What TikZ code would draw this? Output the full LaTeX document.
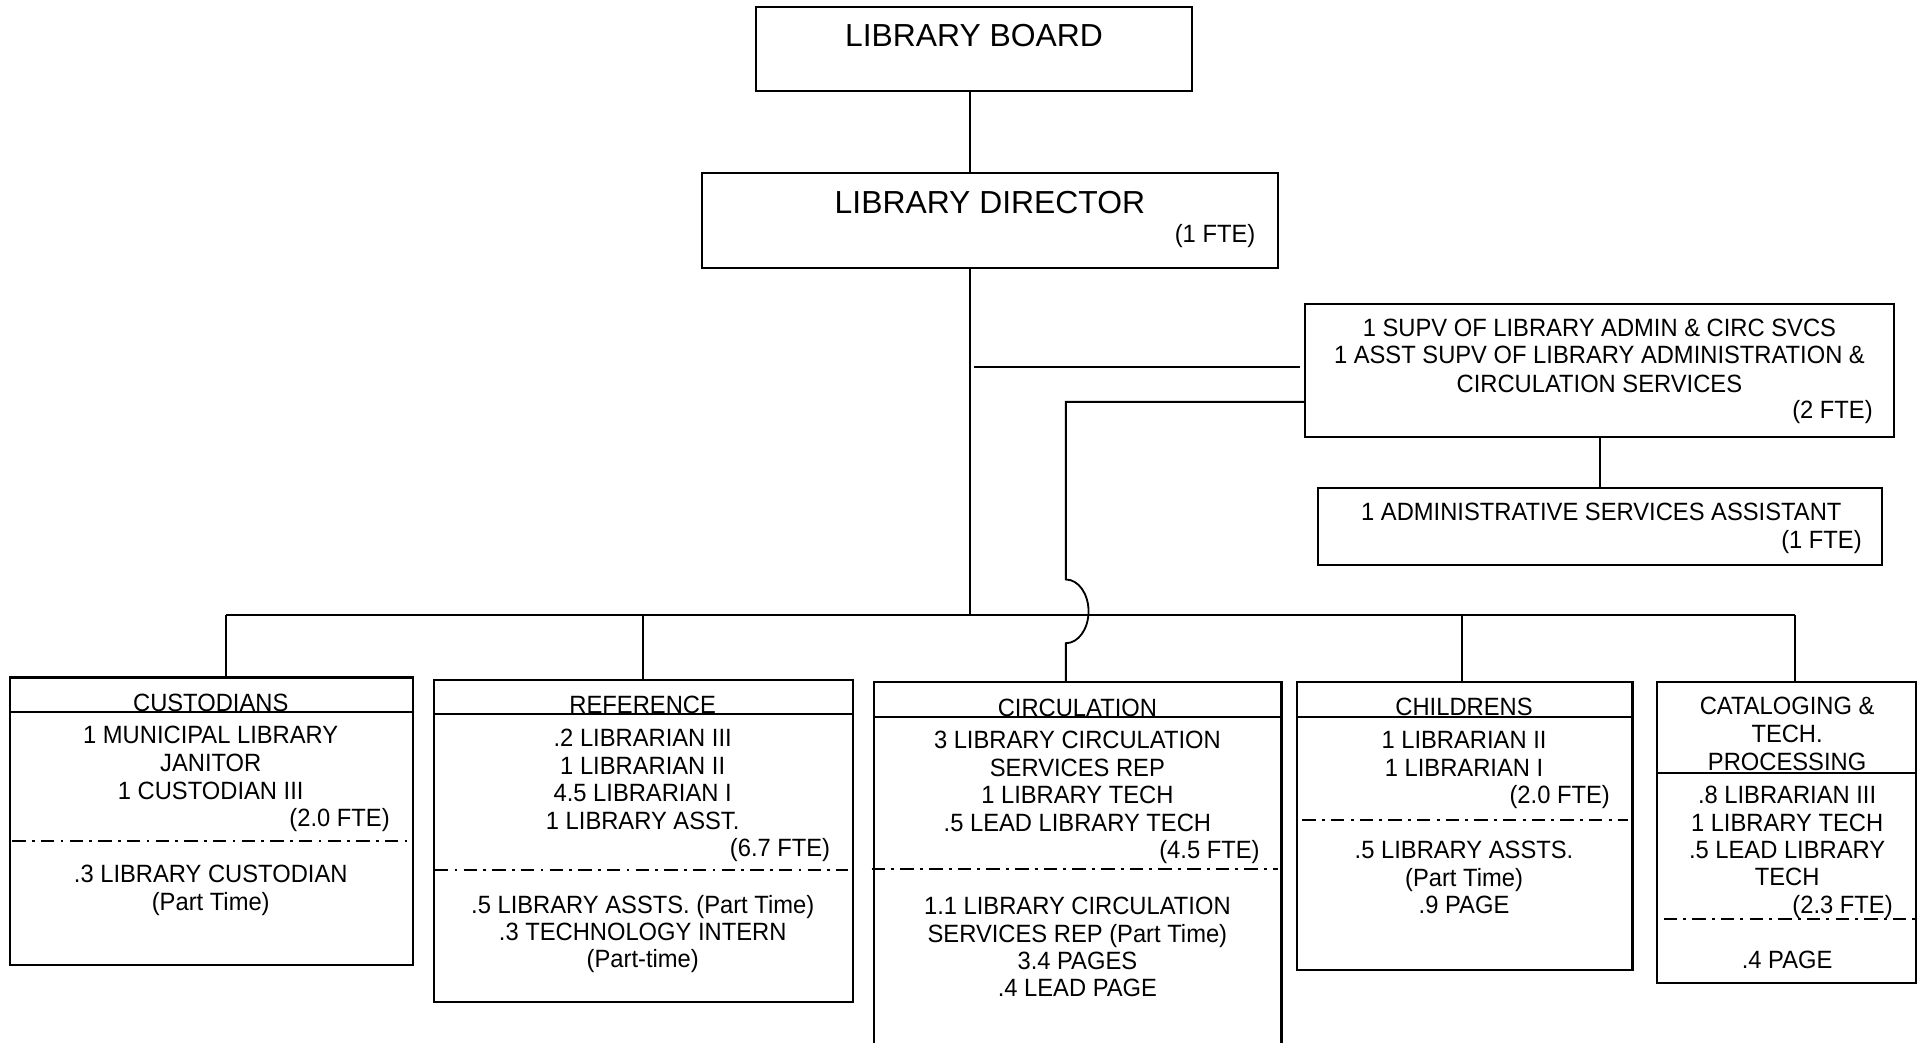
\documentclass[tikz,border=0pt]{standalone}
\usepackage{fontspec}
\setmainfont{Liberation Sans}
\newfontfamily\bodyfont[FakeStretch=0.95]{Liberation Sans}
\usetikzlibrary{fit}
\begin{document}
\begin{tikzpicture}[x=0.5pt,y=-0.5pt,
  box/.style={draw, line width=0.85pt, inner sep=0pt, outer sep=0pt, fit={#1}},
  txt/.style={inner sep=0pt, anchor=base, font=\bodyfont\fontsize{10.2}{12}\selectfont},
  ttl/.style={inner sep=0pt, anchor=base, font=\fontsize{13}{15}\selectfont},
  fte/.style={inner sep=0pt, anchor=base east, font=\bodyfont\fontsize{10.2}{12}\selectfont},
  conn/.style={line width=0.75pt},
  hdr/.style={line width=0.85pt},
  dd/.style={line width=0.8pt, dash pattern=on 5.5pt off 2.5pt on 1.2pt off 2.5pt}]
\useasboundingbox (0,0) rectangle (1568,851);

% boxes
\node[box={(617,6) (973,74)}] (board) {};
\node[box={(573,141) (1043,219)}] (director) {};
\node[box={(1065,248) (1546,357)}] (supv) {};
\node[box={(1076,398) (1536,461)}] (admin) {};
\node[box={(8,553) (337,788)}] (cust) {};
\node[box={(354,555) (696,818)}] (ref) {};
\node[box={(713.5,556.5) (1046,880)}] (circ) {};
\node[box={(1059,556.5) (1332.5,792)}] (child) {};
\node[box={(1352.5,556.5) (1564,802)}] (cat) {};

% bus coordinates
\coordinate (busM) at (792,502);
\coordinate (busA) at (184.5,502);
\coordinate (busB) at (524.5,502);
\coordinate (busC) at (870,502);
\coordinate (busD) at (1193,502);
\coordinate (busE) at (1465,502);
\coordinate (jog) at (870,328);
\coordinate (tapL) at (795,299.5);
\coordinate (tapR) at (1061,299.5);

% connectors
\draw[conn] (board.south -| busM) -- (director.north -| busM);
\draw[conn] (director.south -| busM) -- (busM);
\draw[conn] (busA) -- (busE);
\draw[conn] (busA) -- (cust.north -| busA);
\draw[conn] (busB) -- (ref.north -| busB);
\draw[conn] (busD) -- (child.north -| busD);
\draw[conn] (busE) -- (cat.north -| busE);
\draw[conn] (tapL) -- (tapR);
\draw[conn] (supv.west |- jog) -- (jog) -- (870,473)
  arc[start angle=90, end angle=-90, x radius=9.25pt, y radius=13pt]
  -- (circ.north -| jog);
\draw[conn] (supv.south -| admin.north) -- (admin.north);

% top texts
\node[ttl] (boardT) at (795,38) {LIBRARY BOARD};
\node[ttl] (dirT) at (808,174) {LIBRARY DIRECTOR};
\node[fte] (dirF) at (1025,198) {(1 FTE)};
\node[txt] (sup1) at (1305.5,275) {1 SUPV OF LIBRARY ADMIN \& CIRC SVCS};
\node[txt] (sup2) at (1305.5,297) {1 ASST SUPV OF LIBRARY ADMINISTRATION \&};
\node[txt] (sup3) at (1305.5,320) {CIRCULATION SERVICES};
\node[fte] (supF) at (1529,342) {(2 FTE)};
\node[txt] (adm1) at (1307,425) {1 ADMINISTRATIVE SERVICES ASSISTANT};
\node[fte] (admF) at (1520,448) {(1 FTE)};

% custodians
\draw[hdr] (cust.west |- 0,581) -- (cust.east |- 0,581);
\node[txt] (cuH) at (172,580.5) {CUSTODIANS};
\node[txt] (cu1) at (172,607) {1 MUNICIPAL LIBRARY};
\node[txt] (cu2) at (172,630) {JANITOR};
\node[txt] (cu3) at (172,652.5) {1 CUSTODIAN III};
\node[fte] (cuF) at (318.5,674.5) {(2.0 FTE)};
\draw[dd] (10,686.5) -- (336,686.5);
\node[txt] (cu4) at (172,720.5) {.3 LIBRARY CUSTODIAN};
\node[txt] (cu5) at (172,743) {(Part Time)};

% reference
\draw[hdr] (ref.west |- 0,582.8) -- (ref.east |- 0,582.8);
\node[txt] (reH) at (524.6,582.5) {REFERENCE};
\node[txt] (re1) at (524.6,609.5) {.2 LIBRARIAN III};
\node[txt] (re2) at (524.6,632) {1 LIBRARIAN II};
\node[txt] (re3) at (524.6,654.5) {4.5 LIBRARIAN I};
\node[txt] (re4) at (524.6,677) {1 LIBRARY ASST.};
\node[fte] (reF) at (678,699.5) {(6.7 FTE)};
\draw[dd] (355,710) -- (692,710);
\node[txt] (re5) at (524.6,745.5) {.5 LIBRARY ASSTS. (Part Time)};
\node[txt] (re6) at (524.6,767.5) {.3 TECHNOLOGY INTERN};
\node[txt] (re7) at (524.6,790) {(Part-time)};

% circulation
\draw[hdr] (circ.west |- 0,585) -- (circ.east |- 0,585);
\node[txt] (ciH) at (879.4,584.5) {CIRCULATION};
\node[txt] (ci1) at (879.4,611) {3 LIBRARY CIRCULATION};
\node[txt] (ci2) at (879.4,633.5) {SERVICES REP};
\node[txt] (ci3) at (879.4,656) {1 LIBRARY TECH};
\node[txt] (ci4) at (879.4,678.5) {.5 LEAD LIBRARY TECH};
\node[fte] (ciF) at (1028.5,701) {(4.5 FTE)};
\draw[dd] (711.5,709.6) -- (1043,709.6);
\node[txt] (ci5) at (879.4,746.5) {1.1 LIBRARY CIRCULATION};
\node[txt] (ci6) at (879.4,769) {SERVICES REP (Part Time)};
\node[txt] (ci7) at (879.4,791.5) {3.4 PAGES};
\node[txt] (ci8) at (879.4,813.5) {.4 LEAD PAGE};

% childrens
\draw[hdr] (child.west |- 0,585) -- (1334,585);
\node[txt] (chH) at (1195,584) {CHILDRENS};
\node[txt] (ch1) at (1195,611) {1 LIBRARIAN II};
\node[txt] (ch2) at (1195,633.5) {1 LIBRARIAN I};
\node[fte] (chF) at (1314.4,656) {(2.0 FTE)};
\draw[dd] (1063,669.3) -- (1328.5,669.3);
\node[txt] (ch3) at (1195,701) {.5 LIBRARY ASSTS.};
\node[txt] (ch4) at (1195,723.5) {(Part Time)};
\node[txt] (ch5) at (1195,746) {.9 PAGE};

% cataloging
\node[txt] (caH1) at (1458.7,583.5) {CATALOGING \&};
\node[txt] (caH2) at (1458.7,606) {TECH.};
\node[txt] (caH3) at (1458.7,628.5) {PROCESSING};
\draw[hdr] (cat.west |- 0,631.2) -- (cat.east |- 0,631.2);
\node[txt] (ca1) at (1458.7,656) {.8 LIBRARIAN III};
\node[txt] (ca2) at (1458.7,678.5) {1 LIBRARY TECH};
\node[txt] (ca3) at (1458.7,700.6) {.5 LEAD LIBRARY};
\node[txt] (ca4) at (1458.7,723) {TECH};
\node[fte] (caF) at (1545.3,745.5) {(2.3 FTE)};
\draw[dd] (1357.8,750.4) -- (1566,750.4);
\node[txt] (ca5) at (1458.7,790.5) {.4 PAGE};
\end{tikzpicture}
\end{document}
